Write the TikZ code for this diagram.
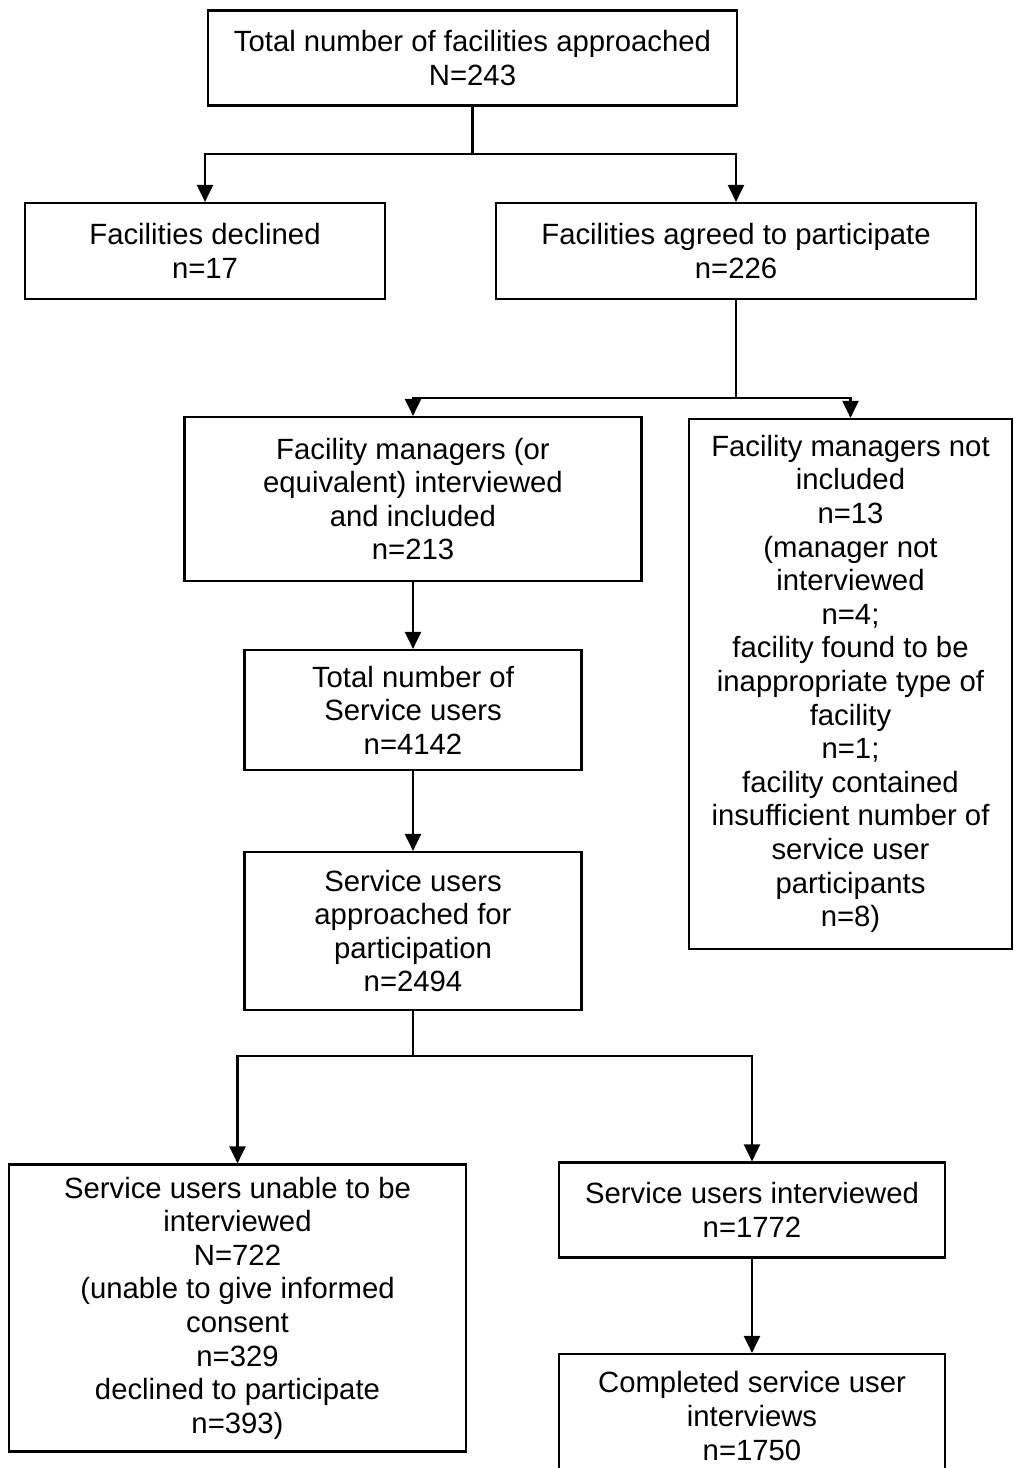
\documentclass[tikz,border=0pt]{standalone}
\usepackage{fontspec}
\setmainfont{Liberation Sans}
\usetikzlibrary{arrows.meta}
\begin{document}
\begin{tikzpicture}[x=1pt,y=-1pt,
  box/.style={draw, line width=2.2pt, align=center, inner sep=0pt,
    font=\fontsize{29.3}{33.6}\selectfont},
  conn/.style={line width=2.2pt},
  arr/.style={line width=2.2pt, -{Triangle[width=16pt,length=17pt]}}]
\useasboundingbox (0,0) rectangle (1013,1468);
\fill[white] (0,0) rectangle (1013,1468);
% boxes: centre, width, height
\node[box, minimum width=529, minimum height=95] (b1) at (472.5,58)
  {Total number of facilities approached\\N=243};
\node[box, minimum width=360, minimum height=96] (b2) at (205,251)
  {Facilities declined\\n=17};
\node[box, minimum width=480, minimum height=96] (b3) at (736,251)
  {Facilities agreed to participate\\n=226};
\node[box, minimum width=457, minimum height=164] (b4) at (413,499)
  {Facility managers (or\\equivalent) interviewed\\and included\\n=213};
\node[box, minimum width=323, minimum height=530] (b5) at (850.5,684)
  {Facility managers not\\included\\n=13\\(manager not\\interviewed\\n=4;\\facility found to be\\inappropriate type of\\facility\\n=1;\\facility contained\\insufficient number of\\service user\\participants\\n=8)};
\node[box, minimum width=337, minimum height=120] (b6) at (413,710)
  {Total number of\\Service users\\n=4142};
\node[box, minimum width=337, minimum height=158] (b7) at (413,931)
  {Service users\\approached for\\participation\\n=2494};
\node[box, minimum width=457, minimum height=287] (b8) at (237.5,1308)
  {Service users unable to be\\interviewed\\N=722\\(unable to give informed\\consent\\n=329\\declined to participate\\n=393)};
\node[box, minimum width=386, minimum height=95] (b9) at (752,1210)
  {Service users interviewed\\n=1772};
\node[box, minimum width=386, minimum height=124] (b10) at (752,1416)
  {Completed service user\\interviews\\n=1750};
% junctions
\coordinate (j1) at (472.5,154);
\coordinate (j2) at (736,398);
\coordinate (j3) at (413,1056);
% connectors
\draw[conn] (b1.south) -- (j1);
\draw[arr] (j1) -| (b2.north);
\draw[arr] (j1) -| (b3.north);
\draw[conn] (b3.south) -- (j2);
\draw[arr] (j2) -| (b4.north);
\draw[arr] (j2) -| (b5.north);
\draw[arr] (b4.south) -- (b6.north);
\draw[arr] (b6.south) -- (b7.north);
\draw[conn] (b7.south) -- (j3);
\draw[arr] (j3) -| (b8.north);
\draw[arr] (j3) -| (b9.north);
\draw[arr] (b9.south) -- (b10.north);
\end{tikzpicture}
\end{document}
